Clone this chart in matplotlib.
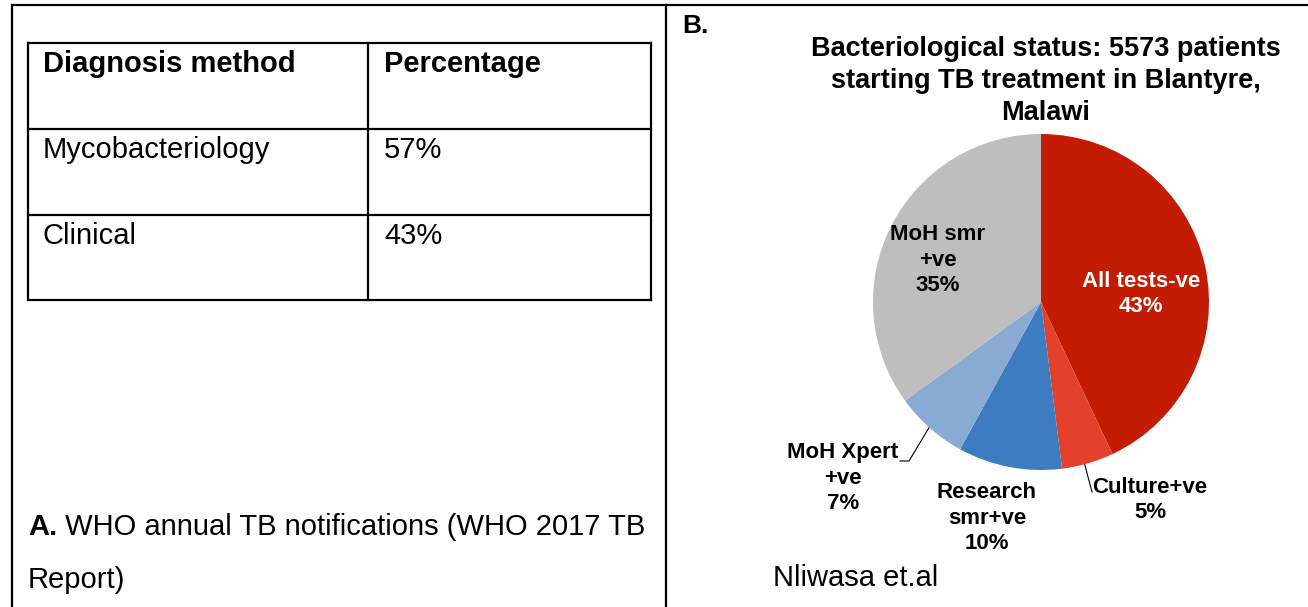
import matplotlib.pyplot as plt

plt.rcParams['font.family'] = ['Liberation Sans', 'DejaVu Sans']

# Panel A table: WHO notifications by diagnosis method
table_header = ['Diagnosis method', 'Percentage']
methods = ['Mycobacteriology', 'Clinical']
method_pct = ['57%', '43%']

# Panel B pie: bacteriological status of patients starting TB treatment
status_labels = ['All tests-ve', 'Culture+ve', 'Research\nsmr+ve', 'MoH Xpert\n+ve', 'MoH smr\n+ve']
status_pct = [43, 5, 10, 7, 35]
status_colors = ['#C41C02', '#E3412C', '#3D7CC0', '#88AAD3', '#BEBEBE']

W, H = 1308, 607
fig = plt.figure(figsize=(W / 100, H / 100), dpi=100)
fig.patch.set_facecolor('white')

# overlay axes in pixel units for the frame, table and captions
ax = fig.add_axes([0, 0, 1, 1])
ax.set_xlim(0, W)
ax.set_ylim(H, 0)
ax.axis('off')

lw = 1.6
ax.plot([12, W], [5, 5], color='black', lw=lw)
ax.plot([12, 12], [5, H], color='black', lw=lw)
ax.plot([666, 666], [5, H], color='black', lw=lw)

# table grid
tx0, tx1, tcol = 28, 651, 368
row_edges = [43, 129, 215, 300]
for y in row_edges:
    ax.plot([tx0, tx1], [y, y], color='black', lw=lw)
for x in [tx0, tcol, tx1]:
    ax.plot([x, x], [row_edges[0], row_edges[-1]], color='black', lw=lw)

fs = 21
ax.text(43, 64, table_header[0], fontsize=fs, fontweight='bold', va='center')
ax.text(384, 64, table_header[1], fontsize=fs, fontweight='bold', va='center')
for i, (m, p) in enumerate(zip(methods, method_pct)):
    y = row_edges[i + 1] + 21
    ax.text(43, y, m, fontsize=fs, va='center')
    ax.text(384, y, p, fontsize=fs, va='center')

a_lbl = ax.text(28, 541, 'A.', fontsize=fs, fontweight='bold', va='bottom')
ax.annotate(' WHO annual TB notifications (WHO 2017 TB', xy=(1, 0), xycoords=a_lbl,
            fontsize=fs, va='bottom', ha='left')
ax.text(28, 594, 'Report)', fontsize=fs, va='bottom')

ax.text(682, 26, 'B.', fontsize=19, fontweight='bold', va='center')
ax.text(1046, 81, 'Bacteriological status: 5573 patients\nstarting TB treatment in Blantyre,\nMalawi',
        fontsize=19.5, fontweight='bold', ha='center', va='center', linespacing=1.32)
ax.text(773, 578, 'Nliwasa et.al', fontsize=fs, va='center')

# pie chart
cx, cy, r = 1041, 302, 168
pax = fig.add_axes([(cx - r) / W, 1 - (cy + r) / H, 2 * r / W, 2 * r / H])
pax.pie(status_pct, colors=status_colors, startangle=90, counterclock=False,
        wedgeprops=dict(linewidth=0))
pax.set_xlim(-1, 1)
pax.set_ylim(-1, 1)
pax.set_aspect('equal')
pax.axis('off')

lfs = 16
ls = 1.3
def px(x, y):
    return (x - cx) / r, (cy - y) / r

pax.text(*px(1141, 294), f'{status_labels[0]}\n{status_pct[0]}%', color='white',
         fontsize=lfs, fontweight='bold', ha='center', va='center', linespacing=ls)
pax.text(*px(938, 260), f'{status_labels[4]}\n{status_pct[4]}%',
         fontsize=lfs, fontweight='bold', ha='center', va='center', linespacing=ls)
pax.text(*px(843, 478), f'{status_labels[3]}\n{status_pct[3]}%',
         fontsize=lfs, fontweight='bold', ha='center', va='center', linespacing=ls, clip_on=False)
pax.text(*px(987, 518), f'{status_labels[2]}\n{status_pct[2]}%',
         fontsize=lfs, fontweight='bold', ha='center', va='center', linespacing=ls, clip_on=False)
pax.text(*px(1150, 500), f'{status_labels[1]}\n{status_pct[1]}%',
         fontsize=lfs, fontweight='bold', ha='center', va='center', linespacing=ls, clip_on=False)

# leader lines for the small slices
ax.plot([900, 909, 930], [461, 461, 426], color='black', lw=0.8)
ax.plot([1083, 1092], [458, 492], color='black', lw=0.8)

fig.savefig('out.png', dpi=100)
